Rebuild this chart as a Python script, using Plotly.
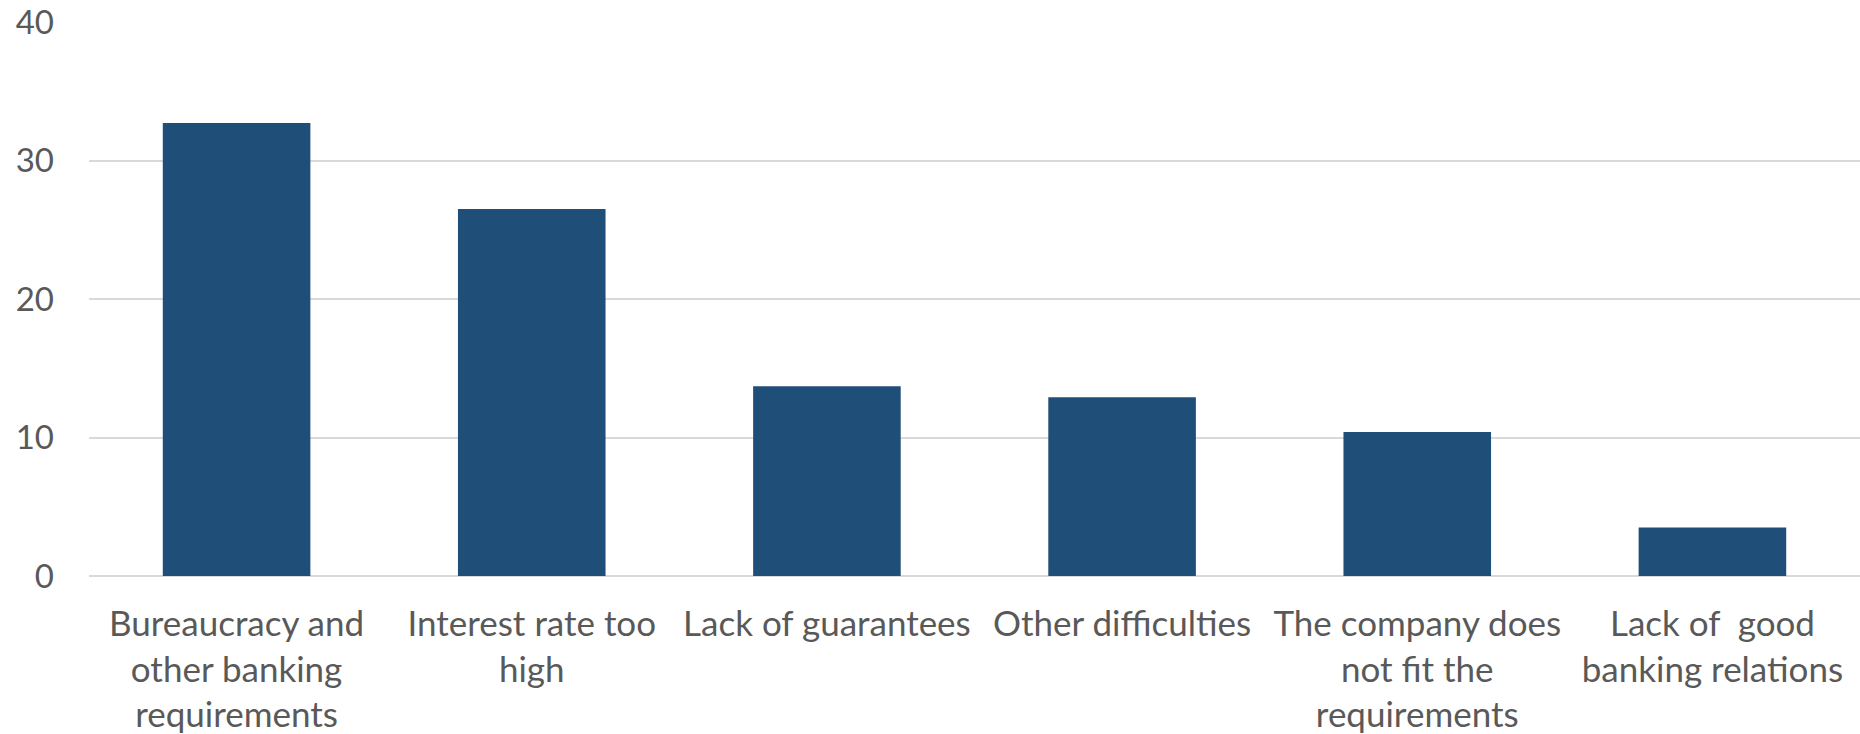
import plotly.graph_objects as go

# Reported obstacles to obtaining bank credit (% of firms)
categories = [
    "Bureaucracy and<br>other banking<br>requirements",
    "Interest rate too<br>high",
    "Lack of guarantees",
    "Other difficulties",
    "The company does<br>not fit the<br>requirements",
    "Lack of\u00a0 good<br>banking relations",
]
values = [32.7, 26.5, 13.7, 12.9, 10.4, 3.5]
y_ticks = [0, 10, 20, 30, 40]

BAR_COLOR = "#1F4E79"
TEXT_COLOR = "#595959"
GRID_COLOR = "#D9D9D9"
FONT = "Lato, 'Open Sans', sans-serif"

fig = go.Figure(
    go.Bar(
        x=categories,
        y=values,
        marker=dict(color=BAR_COLOR, line=dict(width=0)),
        hoverinfo="x+y",
    )
)

fig.update_layout(
    width=1860,
    height=734,
    margin=dict(l=89, r=0, t=22, b=158),
    paper_bgcolor="white",
    plot_bgcolor="white",
    bargap=0.5,
    showlegend=False,
    font=dict(family=FONT, size=32, color=TEXT_COLOR),
)

fig.update_xaxes(
    automargin=False,
    showgrid=False,
    showline=False,
    ticks="",
    tickangle=0,
    ticklabelstandoff=24,
    tickfont=dict(family=FONT, size=35, color=TEXT_COLOR),
)

fig.update_yaxes(
    automargin=False,
    range=[0, 40],
    tickvals=y_ticks,
    showgrid=True,
    gridcolor=GRID_COLOR,
    gridwidth=2,
    zeroline=True,
    zerolinecolor=GRID_COLOR,
    zerolinewidth=2,
    showline=False,
    ticks="",
    ticklabelstandoff=34,
    tickfont=dict(family=FONT, size=33, color=TEXT_COLOR),
)

fig.write_html("out.html")
